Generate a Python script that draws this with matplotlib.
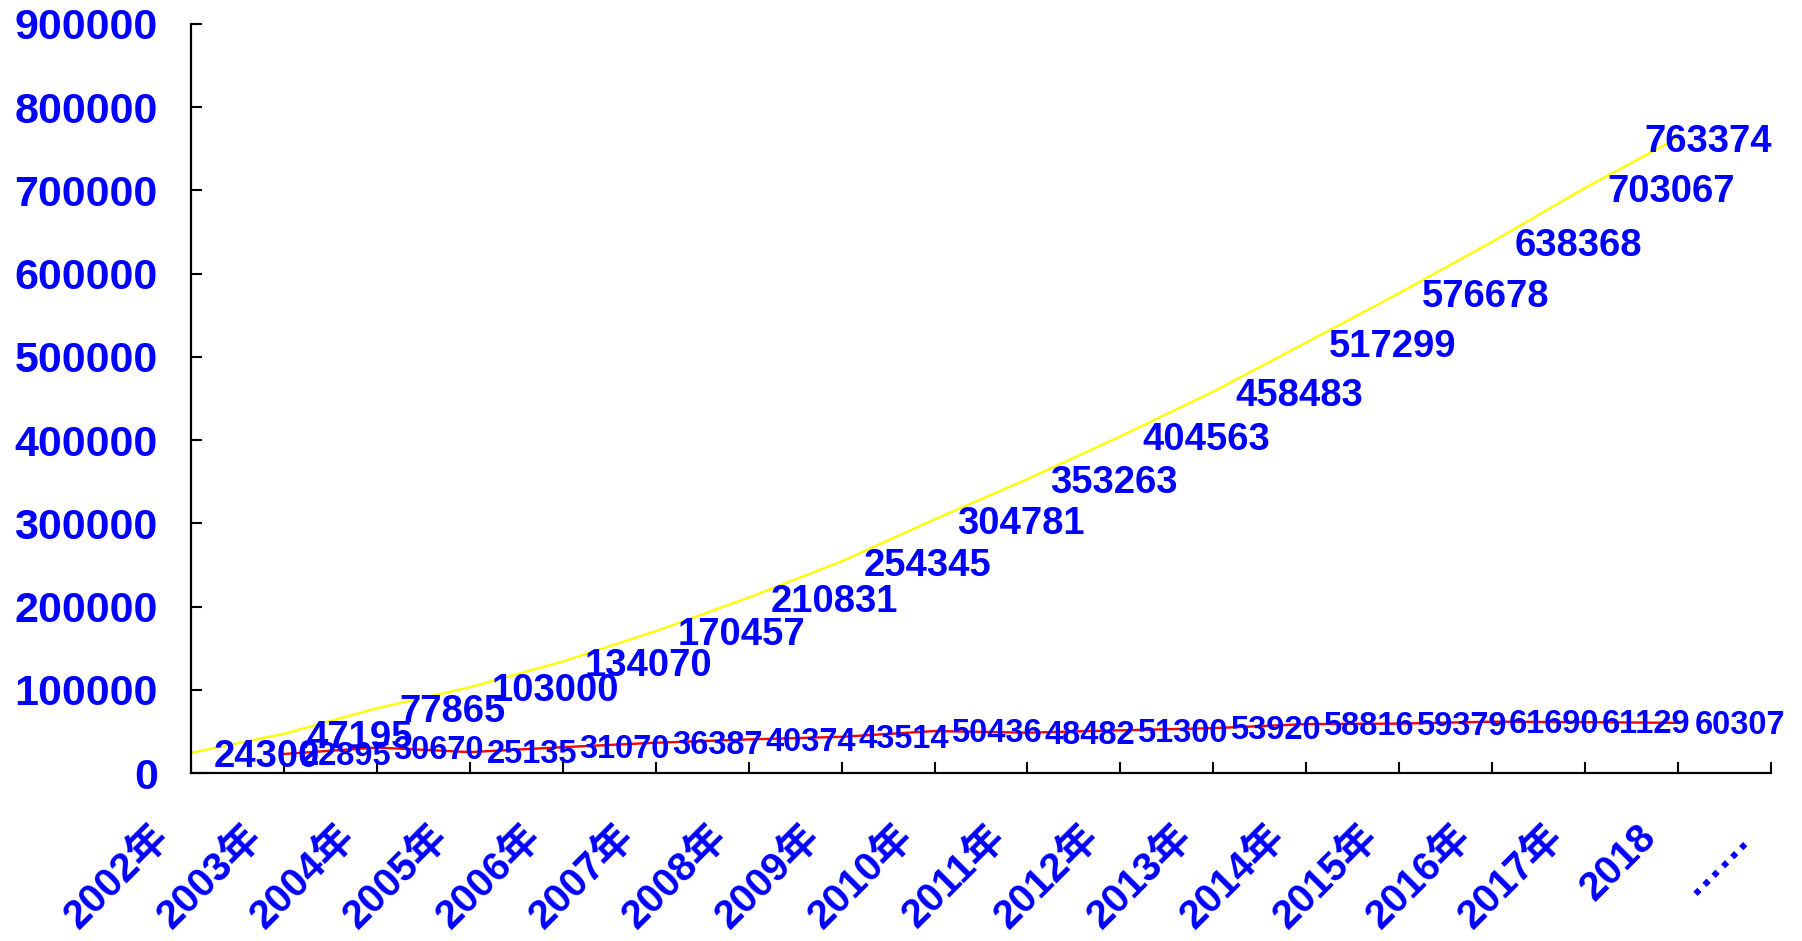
import matplotlib
matplotlib.use('Agg')
import matplotlib.pyplot as plt
import matplotlib.transforms as mtransforms

years = ['2002年', '2003年', '2004年', '2005年', '2006年', '2007年', '2008年', '2009年',
         '2010年', '2011年', '2012年', '2013年', '2014年', '2015年', '2016年', '2017年',
         '2018', '……']

# cumulative totals, 2002-2018
total = [24300, 47195, 77865, 103000, 134070, 170457, 210831, 254345, 304781,
         353263, 404563, 458483, 517299, 576678, 638368, 703067, 763374]
# yearly additions, 2003-2018
added = [22895, 30670, 25135, 31070, 36387, 40374, 43514, 50436, 48482,
         51300, 53920, 58816, 59379, 61690, 61129, 60307]

plt.rcParams['font.family'] = ['Liberation Sans', 'Noto Sans CJK SC', 'DejaVu Sans']
plt.rcParams['font.weight'] = 'bold'
BLUE = '#0000FF'

fig = plt.figure(figsize=(18.02, 9.41), dpi=100)
ax = fig.add_axes([0.106, 0.1785, 0.8768, 0.796])

x_total = list(range(len(total)))
x_added = list(range(1, len(added) + 1))

ax.plot(x_total, total, color='#FFFF00', lw=1.7, zorder=2)
ax.plot(x_added, added, color='#FF0000', lw=1.7, zorder=2)

for i, v in zip(x_total, total):
    dx = -24 if i == len(total) - 1 else 16
    ax.annotate(str(v), (i, v), xytext=(dx, -3), textcoords='offset points',
                ha='left', va='center', color=BLUE, fontsize=27.5,
                fontweight='bold', zorder=4)

for i, v in zip(x_added, added):
    ax.annotate(str(v), (i, v), xytext=(12, -2), textcoords='offset points',
                ha='left', va='center', color=BLUE, fontsize=23.5,
                fontweight='bold', zorder=3)

ax.set_xlim(0, len(years) - 1)
ax.set_ylim(0, 900000)
ax.set_yticks(range(0, 900001, 100000))
ax.set_yticklabels([str(t) for t in range(0, 900001, 100000)])
ax.set_xticks(range(len(years)))
ax.set_xticklabels(years)

ax.spines['top'].set_visible(False)
ax.spines['right'].set_visible(False)
for s in ('left', 'bottom'):
    ax.spines[s].set_linewidth(1.6)

ax.tick_params(axis='both', direction='in', length=8, width=1.5)
ax.tick_params(axis='y', labelsize=31, labelcolor=BLUE, pad=24)
ax.tick_params(axis='x', labelsize=29, labelcolor=BLUE, pad=0)

shift = mtransforms.ScaledTranslation(-0.28, -0.58, fig.dpi_scale_trans)
for lab in ax.get_xticklabels():
    lab.set_rotation(45)
    lab.set_rotation_mode('anchor')
    lab.set_ha('right')
    lab.set_va('center')
    lab.set_fontweight('bold')
    lab.set_transform(lab.get_transform() + shift)
for lab in ax.get_yticklabels():
    lab.set_fontweight('bold')

fig.savefig('out.png', dpi=100)
